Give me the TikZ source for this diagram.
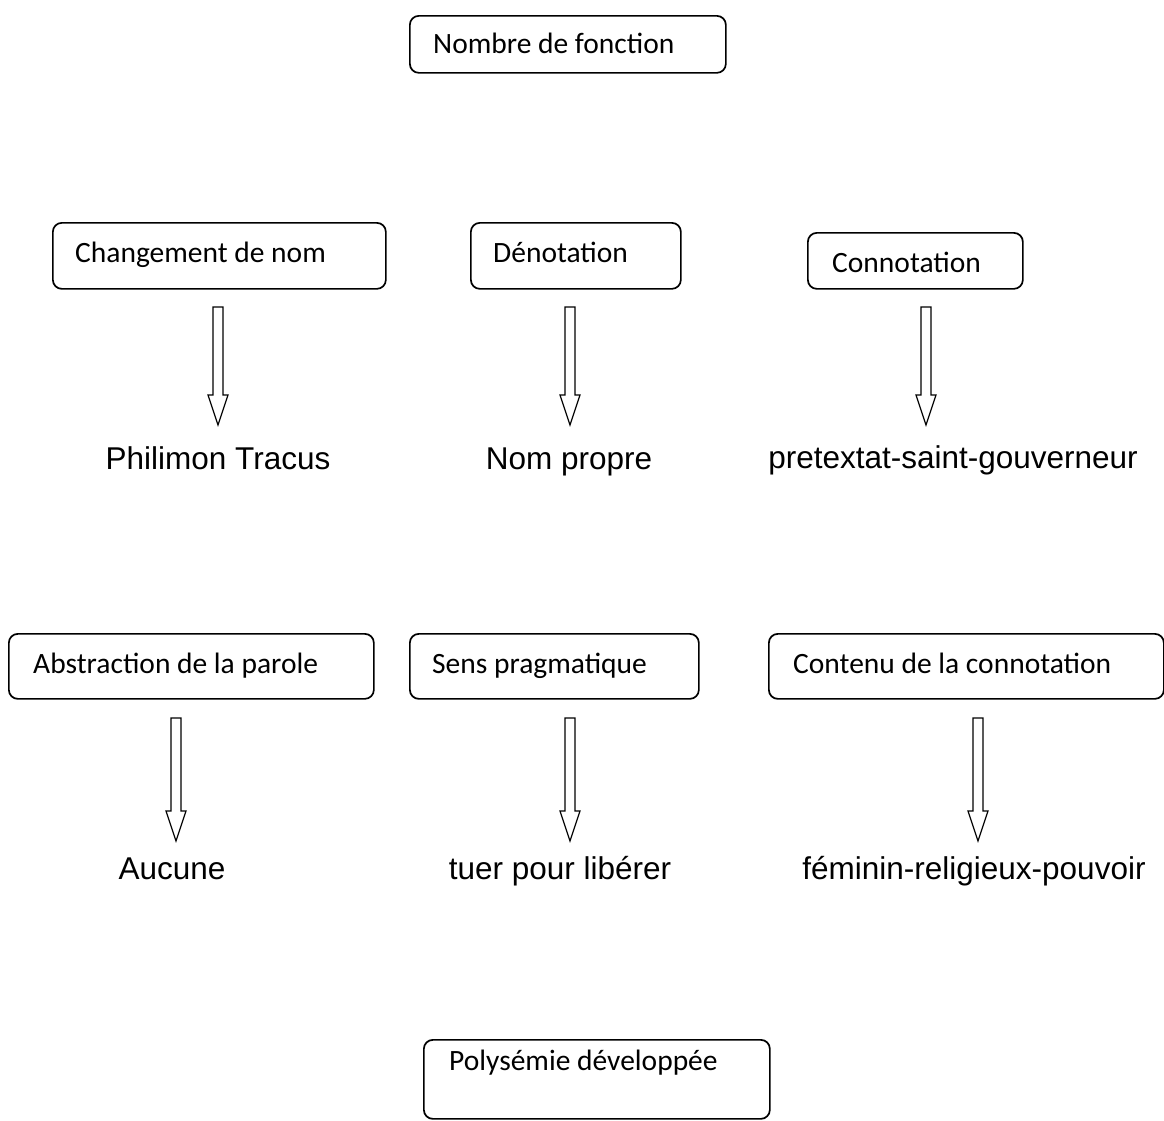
\documentclass[tikz,border=0pt]{standalone}
\usepackage{fontspec}
\setmainfont{Carlito}
\newfontfamily\arialfont{Liberation Sans}
\begin{document}
\begin{tikzpicture}[x=1pt,y=-1pt,
  box/.style={draw=black, line width=1.7pt, rounded corners=9pt, fill=white, inner sep=0pt, anchor=north west},
  boxtext/.style={anchor=base west, inner sep=0pt, font=\fontsize{29.5}{34}\selectfont},
  result/.style={anchor=base, inner sep=0pt, font=\arialfont\fontsize{31.5}{37}\selectfont},
  arr/.style={draw=black, line width=1.2pt, fill=white, line join=miter},
  pics/blockarrow/.style={code={
    \draw[arr] (-5,0) -- (-5,#1) -- (-10,#1) -- (0,#1+30) -- (10,#1) -- (5,#1) -- (5,0) -- cycle;}}
]
\useasboundingbox[fill=white] (0,0) rectangle (1164,1120);

% top box
\node[box, minimum width=316pt, minimum height=57pt] (nf) at (409,15) {};
\node[boxtext] (nft) at (433,53) {Nombre de fonction};

% row 1 boxes
\node[box, minimum width=333pt, minimum height=66pt] (cn) at (52,222) {};
\node[boxtext] (cnt) at (75,262) {Changement de nom};
\node[box, minimum width=210pt, minimum height=66pt] (den) at (470,222) {};
\node[boxtext] (dent) at (493,262) {Dénotation};
\node[box, minimum width=215pt, minimum height=56pt] (con) at (807,232) {};
\node[boxtext] (cont) at (832,272) {Connotation};

% row 1 arrows
\pic at (218,307) {blockarrow=88};
\pic at (570,307) {blockarrow=88};
\pic at (926,307) {blockarrow=88};

% row 1 results
\node[result] (r1) at (218,469) {Philimon Tracus};
\node[result] (r2) at (569,469) {Nom propre};
\node[result] (r3) at (953,468) {pretextat-saint-gouverneur};

% row 2 boxes
\node[box, minimum width=365pt, minimum height=65pt] (ab) at (8,633) {};
\node[boxtext] (abt) at (33,673) {Abstraction de la parole};
\node[box, minimum width=289pt, minimum height=65pt] (sp) at (409,633) {};
\node[boxtext] (spt) at (432,673) {Sens pragmatique};
\node[box, minimum width=395pt, minimum height=65pt] (cc) at (768,633) {};
\node[boxtext] (cct) at (793,673) {Contenu de la connotation};

% row 2 arrows
\pic at (176,718) {blockarrow=93};
\pic at (570,718) {blockarrow=93};
\pic at (978,718) {blockarrow=93};

% row 2 results
\node[result] (s1) at (172,879) {Aucune};
\node[result] (s2) at (560,879) {tuer pour libérer};
\node[result] (s3) at (974,879) {féminin-religieux-pouvoir};

% bottom box
\node[box, minimum width=346pt, minimum height=79pt] (pd) at (423,1039) {};
\node[boxtext] (pdt) at (449,1070) {Polysémie développée};
\end{tikzpicture}
\end{document}
